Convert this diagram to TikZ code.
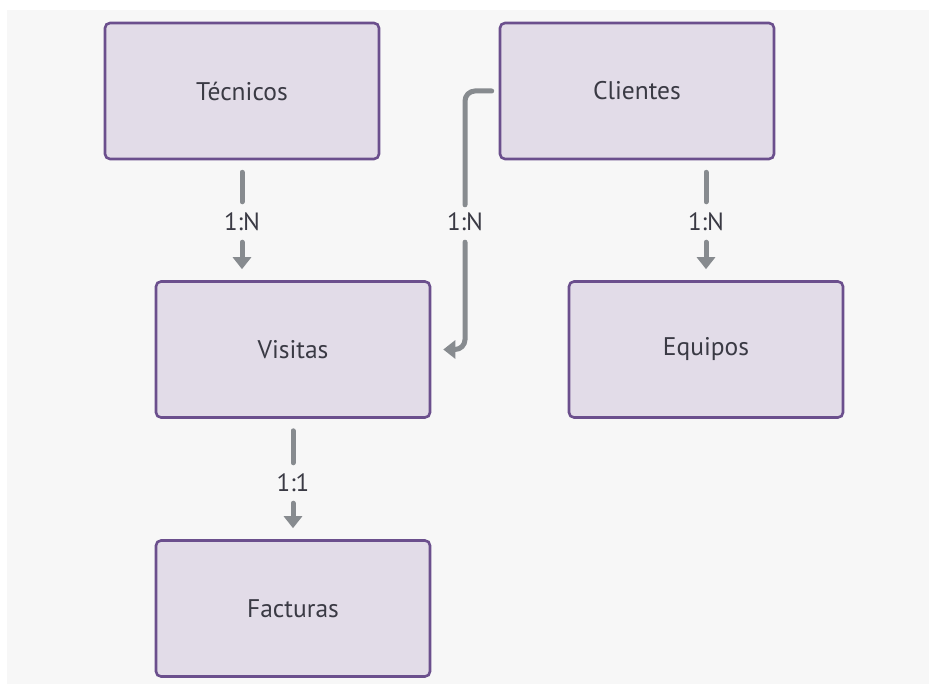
\documentclass[tikz,border=0pt]{standalone}
\usepackage{fontspec}
\setmainfont{PT Sans}
\usetikzlibrary{arrows.meta}
\definecolor{boxfill}{HTML}{E2DCE8}
\definecolor{boxline}{HTML}{6B4F8D}
\definecolor{linkgray}{HTML}{878B8F}
\definecolor{txtcol}{HTML}{3A3A44}
\definecolor{canvas}{HTML}{F7F7F7}
\begin{document}
\begin{tikzpicture}[x=1pt,y=-1pt,
  entity/.style={draw=boxline, line width=2.6pt, fill=boxfill, rounded corners=5pt,
    minimum width=274pt, minimum height=136pt, inner sep=0pt,
    font=\fontsize{25.5}{30}\selectfont, text=txtcol},
  card/.style={inner sep=0pt, minimum height=30pt, minimum width=40pt,
    font=\fontsize{25}{30}\selectfont, text=txtcol},
  link/.style={draw=linkgray, line width=5pt, line cap=round},
  linkarrow/.style={link, -{Triangle[width=18pt,length=12pt]}}
]
\useasboundingbox (0,0) rectangle (929,684);
\fill[white] (0,0) rectangle (929,684);
\fill[canvas] (7,10) rectangle (929,684);

% entities
\node[entity] (tec) at (242,91) {Técnicos};
\node[entity] (cli) at (637,91) {Clientes};
\node[entity] (vis) at (293,349.5) {Visitas};
\node[entity] (equ) at (706,349.5) {Equipos};
\node[entity] (fac) at (293,608.5) {Facturas};

% cardinality labels
\node[card] (ltv) at (242,222) {1:N};
\node[card] (lcv) at (465,222) {1:N};
\node[card] (lce) at (706,222) {1:N};
\node[card] (lvf) at (293,483) {1:1};

% Técnicos -> Visitas
\draw[link, shorten <=12pt, shorten >=5pt] (tec) -- (ltv);
\draw[linkarrow, shorten <=5pt, shorten >=11pt] (ltv) -- (ltv |- vis.north);

% Clientes -> Equipos
\draw[link, shorten <=12pt, shorten >=5pt] (lce |- cli.south) -- (lce);
\draw[linkarrow, shorten <=5pt, shorten >=11pt] (lce) -- (equ);

% Clientes -> Visitas (elbow)
\draw[link, rounded corners=10pt, shorten <=7pt, shorten >=2pt] (cli.west) -| (lcv.north);
\draw[linkarrow, rounded corners=10pt, shorten <=5pt, shorten >=12pt] (lcv.south) |- (vis.east);

% Visitas -> Facturas
\draw[link, shorten <=12pt, shorten >=5pt] (vis) -- (lvf);
\draw[linkarrow, shorten <=5pt, shorten >=11pt] (lvf) -- (fac);
\end{tikzpicture}
\end{document}
